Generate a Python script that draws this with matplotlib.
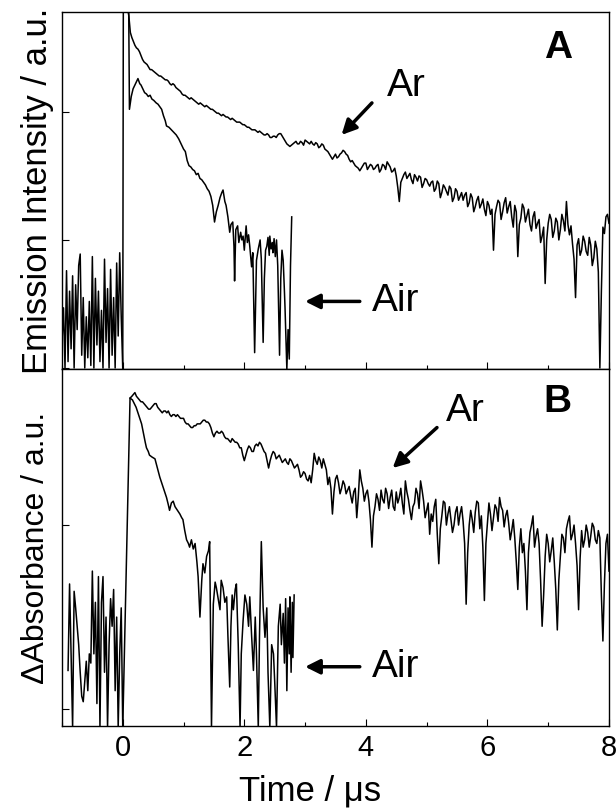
import numpy as np
import matplotlib
matplotlib.use('Agg')
import matplotlib.pyplot as plt
from matplotlib.ticker import MultipleLocator

plt.rcParams['font.family'] = ['Liberation Sans', 'DejaVu Sans']

# ---- panel A: emission decay (a.u.), time in us ----
# pre-trigger noise, -1.0 .. 0.0 us
base_a = [0.20, 0.47, 0.00, 0.76, 0.05, 0.60, 0.15, 0.72, 0.00, 0.65,
          0.30, 0.80, 0.89, 0.10, 0.55, 0.00, 0.40, 0.08, 0.52, 0.02,
          0.87, 0.00, 0.70, 0.18, 0.60, 0.05, 0.45, 0.00, 0.85, 0.20,
          0.62, 0.00, 0.77, 0.10, 0.55, 0.00, 0.82, 0.25, 0.90, 0.40,
          0.00]
# scatter spike at t=0 goes off scale
spike_a = 3.0
# Ar, 0.10 .. 8.00 us every 0.05 us
ar_a = [2.75, 2.58, 2.52, 2.49, 2.44, 2.39, 2.37, 2.33, 2.32, 2.30,
        2.28, 2.27, 2.25, 2.24, 2.21, 2.21, 2.18, 2.16, 2.13, 2.12,
        2.10, 2.10, 2.08, 2.06, 2.06, 2.04, 2.04, 2.02, 2.01, 1.99,
        1.98, 1.98, 1.96, 1.95, 1.95, 1.93, 1.92, 1.91, 1.90, 1.88,
        1.87, 1.86, 1.85, 1.85, 1.83, 1.82, 1.82, 1.80, 1.81, 1.82,
        1.83, 1.79, 1.75, 1.73, 1.75, 1.77, 1.75, 1.76, 1.78, 1.76,
        1.77, 1.74, 1.75, 1.73, 1.74, 1.70, 1.67, 1.63, 1.67, 1.65,
        1.68, 1.69, 1.66, 1.61, 1.60, 1.57, 1.54, 1.58, 1.60, 1.57,
        1.58, 1.56, 1.59, 1.55, 1.58, 1.61, 1.57, 1.54, 1.50, 1.30,
        1.48, 1.53, 1.50, 1.47, 1.51, 1.46, 1.49, 1.44, 1.47, 1.42,
        1.46, 1.40, 1.44, 1.37, 1.41, 1.35, 1.40, 1.33, 1.38, 1.34,
        1.31, 1.37, 1.29, 1.33, 1.26, 1.34, 1.28, 1.24, 1.30, 1.20,
        0.92, 1.26, 1.29, 1.22, 1.33, 1.26, 1.18, 1.27, 0.87, 1.17,
        1.25, 1.19, 1.12, 1.18, 1.09, 1.16, 1.03, 0.66, 1.13, 1.16,
        1.07, 1.14, 1.08, 1.15, 1.30, 1.04, 0.97, 0.55, 1.01, 0.92,
        0.99, 0.88, 0.96, 0.86, 0.93, 0.00, 1.10, 1.18, 1.13]
# Ar, samples half-way between the ones above (0.125 .. 7.975 us)
ar_a_mid = [2.62, 2.55, 2.50, 2.47, 2.41, 2.38, 2.35, 2.33, 2.31, 2.29,
            2.28, 2.26, 2.25, 2.22, 2.22, 2.19, 2.17, 2.14, 2.13, 2.11,
            2.11, 2.09, 2.07, 2.07, 2.05, 2.05, 2.03, 2.02, 2.00, 1.99,
            1.97, 1.97, 1.96, 1.94, 1.94, 1.92, 1.92, 1.90, 1.89, 1.88,
            1.86, 1.86, 1.84, 1.84, 1.82, 1.83, 1.80, 1.81, 1.80, 1.83,
            1.81, 1.77, 1.74, 1.74, 1.76, 1.75, 1.77, 1.74, 1.77, 1.75,
            1.75, 1.76, 1.72, 1.75, 1.71, 1.69, 1.65, 1.65, 1.64, 1.67,
            1.70, 1.67, 1.63, 1.62, 1.58, 1.56, 1.56, 1.60, 1.55, 1.59,
            1.55, 1.58, 1.53, 1.59, 1.55, 1.59, 1.53, 1.56, 1.41, 1.45,
            1.51, 1.48, 1.52, 1.44, 1.49, 1.50, 1.41, 1.48, 1.44, 1.45,
            1.38, 1.46, 1.33, 1.43, 1.38, 1.42, 1.30, 1.40, 1.31, 1.37,
            1.35, 1.26, 1.36, 1.22, 1.31, 1.25, 1.32, 1.19, 1.27, 1.24,
            1.20, 1.31, 1.16, 1.29, 1.21, 1.30, 1.10, 1.22, 1.12, 1.28,
            1.14, 1.24, 1.07, 1.22, 1.13, 0.98, 1.10, 1.00, 1.20, 1.02,
            1.17, 1.00, 1.20, 1.07, 1.12, 1.11, 0.85, 0.96, 0.88, 1.03,
            0.91, 1.02, 0.80, 0.99, 0.75, 0.60, 1.05, 1.20]
# Air
air_a_t = [0.095, 0.11, 0.14, 0.17, 0.20, 0.23, 0.25, 0.28, 0.30, 0.33, 0.36,
           0.39, 0.42, 0.45, 0.48, 0.51, 0.55, 0.58, 0.61, 0.64, 0.67, 0.70,
           0.72, 0.76, 0.80, 0.84, 0.88, 0.92, 0.96, 1.00, 1.03, 1.06, 1.09,
           1.12, 1.15, 1.18, 1.21, 1.24, 1.27, 1.30, 1.33, 1.36, 1.39, 1.42,
           1.45, 1.48, 1.51, 1.54, 1.57, 1.60, 1.63, 1.65, 1.68, 1.70, 1.73,
           1.76, 1.78, 1.81, 1.83, 1.84, 1.86, 1.89, 1.91, 1.94, 1.96, 1.98,
           2.00, 2.03, 2.05, 2.07, 2.09, 2.12, 2.14, 2.17, 2.19, 2.20, 2.23,
           2.26, 2.28, 2.31, 2.33, 2.35, 2.37, 2.39, 2.41, 2.42, 2.44, 2.46,
           2.47, 2.49, 2.51, 2.53, 2.55, 2.58, 2.60, 2.62, 2.64, 2.66, 2.67,
           2.70, 2.72, 2.74, 2.76, 2.78]
air_a = [3.0, 2.02, 2.12, 2.18, 2.21, 2.24, 2.26, 2.22, 2.21, 2.18, 2.15,
         2.14, 2.12, 2.13, 2.10, 2.09, 2.07, 2.06, 2.04, 2.02, 1.97, 1.93,
         1.89, 1.88, 1.86, 1.84, 1.82, 1.79, 1.75, 1.71, 1.69, 1.62, 1.58,
         1.57, 1.55, 1.54, 1.51, 1.52, 1.48, 1.47, 1.45, 1.43, 1.40, 1.38,
         1.34, 1.27, 1.14, 1.22, 1.27, 1.33, 1.37, 1.39, 1.30, 1.27, 1.18,
         1.06, 1.12, 1.14, 0.95, 0.68, 1.08, 1.11, 0.98, 1.06, 1.00, 1.03,
         0.92, 1.11, 0.98, 1.04, 0.95, 0.79, 0.90, 0.12, 0.60, 0.84, 0.93,
         1.00, 0.85, 0.20, 0.70, 0.92, 0.95, 1.02, 0.88, 1.03, 0.93, 0.98,
         0.90, 1.01, 0.87, 1.00, 0.80, 0.10, 0.70, 0.92, 0.84, 0.60, 0.47,
         -0.01, 0.30, 0.07, 0.80, 1.18]

# ---- panel B: transient absorbance (a.u.) ----
# pre-trigger noise, -0.90 .. 0.0 us
base_b = [0.21, 0.68, 0.30, -0.10, 0.64, 0.55, 0.45, 0.35, 0.20, 0.07,
          0.04, 0.15, 0.26, 0.10, 0.30, 0.25, 0.75, 0.30, 0.58, 0.03,
          0.72, -0.10, 0.58, 0.72, 0.20, 0.50, -0.10, 0.35, 0.60, 0.45,
          0.65, 0.10, 0.50, -0.10, 0.30, 0.55, -0.10]
peak_b_t = 0.12
peak_b = 1.69
# Ar, 0.15 .. 8.00 us every 0.05 us
ar_b = [1.70, 1.72, 1.69, 1.67, 1.66, 1.64, 1.63, 1.65, 1.66, 1.63,
        1.61, 1.62, 1.62, 1.59, 1.60, 1.60, 1.58, 1.58, 1.55, 1.54,
        1.53, 1.54, 1.55, 1.56, 1.57, 1.56, 1.53, 1.48, 1.51, 1.50,
        1.50, 1.47, 1.46, 1.47, 1.45, 1.44, 1.42, 1.35, 1.41, 1.42,
        1.40, 1.44, 1.45, 1.42, 1.39, 1.31, 1.38, 1.39, 1.37, 1.36,
        1.35, 1.34, 1.36, 1.33, 1.32, 1.30, 1.27, 1.28, 1.24, 1.23,
        1.39, 1.33, 1.35, 1.36, 1.30, 1.26, 1.06, 1.25, 1.23, 1.20,
        1.22, 1.19, 1.16, 1.18, 1.04, 1.30, 1.20, 1.17, 1.13, 0.88,
        1.10, 1.14, 1.19, 1.12, 1.17, 1.15, 1.10, 1.18, 1.15, 1.12,
        1.24, 1.14, 1.03, 1.12, 1.17, 1.24, 1.13, 1.08, 0.95, 1.02,
        1.14, 0.79, 1.05, 1.12, 1.06, 1.03, 1.00, 1.10, 1.06, 1.02,
        0.57, 1.00, 1.03, 1.07, 1.12, 1.05, 0.59, 1.01, 1.06, 1.04,
        1.09, 1.15, 1.08, 1.05, 1.01, 0.97, 0.93, 0.65, 0.98, 0.90,
        0.54, 0.96, 1.05, 0.94, 0.90, 0.45, 0.83, 0.90, 0.86, 0.80,
        0.43, 0.83, 0.93, 0.98, 1.05, 0.95, 0.90, 0.54, 0.97, 0.92,
        0.96, 0.94, 0.99, 0.90, 0.93, 0.37, 0.90, 0.75]
# Ar, samples half-way between the ones above (0.175 .. 7.975 us)
ar_b_mid = [1.71, 1.70, 1.68, 1.67, 1.65, 1.63, 1.64, 1.66, 1.64, 1.62,
            1.62, 1.61, 1.60, 1.60, 1.59, 1.59, 1.58, 1.56, 1.55, 1.53,
            1.54, 1.55, 1.55, 1.57, 1.56, 1.55, 1.50, 1.50, 1.50, 1.51,
            1.48, 1.47, 1.45, 1.46, 1.45, 1.42, 1.38, 1.38, 1.43, 1.40,
            1.43, 1.43, 1.44, 1.40, 1.35, 1.35, 1.40, 1.36, 1.38, 1.34,
            1.36, 1.33, 1.35, 1.31, 1.33, 1.26, 1.29, 1.25, 1.27, 1.30,
            1.35, 1.37, 1.31, 1.33, 1.22, 1.20, 1.18, 1.27, 1.17, 1.24,
            1.17, 1.21, 1.12, 1.20, 1.15, 1.24, 1.13, 1.19, 1.03, 1.05,
            1.17, 1.08, 1.14, 1.20, 1.09, 1.19, 1.08, 1.12, 1.20, 1.06,
            1.18, 1.08, 1.10, 1.20, 1.09, 1.19, 1.04, 1.12, 1.06, 1.10,
            0.95, 0.98, 1.13, 1.00, 1.10, 0.96, 1.07, 1.00, 1.10, 0.90,
            0.85, 1.08, 0.96, 1.13, 0.98, 0.88, 0.90, 1.12, 0.97, 1.11,
            1.02, 1.10, 0.99, 1.08, 0.92, 1.03, 0.80, 0.88, 0.85, 0.75,
            0.85, 1.00, 0.88, 0.98, 0.70, 0.62, 0.95, 0.80, 0.93, 0.65,
            0.70, 0.95, 0.85, 1.02, 0.92, 1.00, 0.78, 0.82, 0.88, 1.00,
            0.88, 1.01, 0.92, 0.97, 0.62, 0.68, 0.95]
# Air
air_b_t = [0.16, 0.19, 0.22, 0.25, 0.28, 0.31, 0.34, 0.37, 0.39, 0.42, 0.44,
           0.48, 0.53, 0.57, 0.61, 0.64, 0.67, 0.70, 0.72, 0.75, 0.77, 0.80,
           0.83, 0.86, 0.90, 0.94, 0.97, 0.99, 1.02, 1.05, 1.08, 1.10, 1.13,
           1.16, 1.19, 1.22, 1.24, 1.27, 1.30, 1.32, 1.35, 1.38, 1.41, 1.43,
           1.46, 1.49, 1.52, 1.54, 1.57, 1.60, 1.62, 1.65, 1.68, 1.71, 1.73,
           1.76, 1.78, 1.80, 1.82, 1.85, 1.87, 1.90, 1.93, 1.95, 1.98, 2.01,
           2.04, 2.07, 2.09, 2.12, 2.15, 2.18, 2.20, 2.23, 2.25, 2.28, 2.31,
           2.34, 2.37, 2.39, 2.42, 2.45, 2.48, 2.50, 2.53, 2.56, 2.59, 2.61,
           2.64, 2.66, 2.68, 2.70, 2.72, 2.74, 2.75, 2.77, 2.79, 2.80, 2.82]
air_b = [1.68, 1.66, 1.64, 1.61, 1.58, 1.55, 1.50, 1.45, 1.42, 1.40, 1.38,
         1.37, 1.36, 1.31, 1.26, 1.23, 1.20, 1.17, 1.15, 1.11, 1.08, 1.12,
         1.13, 1.10, 1.08, 1.06, 1.04, 1.03, 0.97, 0.92, 0.90, 0.88, 0.92,
         0.87, 0.90, 0.80, 0.72, 0.50, 0.70, 0.79, 0.74, 0.83, 0.86, 0.91,
         -0.10, 0.57, 0.69, 0.66, 0.60, 0.54, 0.70, 0.66, 0.58, 0.61, 0.40,
         0.12, 0.45, 0.62, 0.54, 0.65, 0.68, 0.35, -0.10, 0.30, 0.48, 0.62,
         0.57, 0.45, 0.61, 0.40, 0.21, 0.50, 0.30, -0.10, 0.40, 0.91, 0.55,
         0.39, 0.55, 0.20, -0.10, 0.35, 0.30, 0.15, -0.10, 0.45, 0.57, 0.35,
         0.52, 0.25, 0.60, 0.10, 0.55, 0.30, 0.61, 0.20, 0.58, 0.28, 0.62]


def merge(t, y, y_mid):
    # put the half-way samples between the regular ones
    tt = np.empty(2 * len(t) - 1)
    yy = np.empty(2 * len(t) - 1)
    tt[0::2] = t
    tt[1::2] = (t[:-1] + t[1:]) / 2
    yy[0::2] = y
    yy[1::2] = y_mid
    return tt, yy


fig = plt.figure(figsize=(6.16, 8.10), dpi=100)
ax_a = fig.add_axes([0.1006, 0.5444, 0.888, 0.4408])
ax_b = fig.add_axes([0.1006, 0.1037, 0.888, 0.4407])

lw = 1.1
base_a_t = np.linspace(-1.0, 0.0, len(base_a))
ar_a_t, ar_a_y = merge(np.linspace(0.10, 8.0, len(ar_a)), ar_a, ar_a_mid)
ax_a.plot(base_a_t, base_a, color='k', lw=lw)
ax_a.plot(np.concatenate(([0.0, 0.01], ar_a_t)),
          np.concatenate(([base_a[-1], spike_a], ar_a_y)), color='k', lw=lw)
ax_a.plot(air_a_t, air_a, color='k', lw=lw)

base_b_t = np.linspace(-0.90, 0.0, len(base_b))
ar_b_t, ar_b_y = merge(np.linspace(0.15, 8.0, len(ar_b)), ar_b, ar_b_mid)
ax_b.plot(base_b_t, base_b, color='k', lw=lw)
ax_b.plot(np.concatenate(([0.0, peak_b_t], ar_b_t)),
          np.concatenate(([base_b[-1], peak_b], ar_b_y)), color='k', lw=lw)
ax_b.plot([peak_b_t] + air_b_t, [peak_b] + air_b, color='k', lw=lw)

ax_a.set_ylim(-0.008, 2.78)
ax_b.set_ylim(-0.092, 1.848)
ax_a.set_yticks([0, 1, 2])
ax_b.set_yticks([0, 1])

for ax in (ax_a, ax_b):
    ax.set_xlim(-1.0, 8.0)
    ax.xaxis.set_major_locator(MultipleLocator(2))
    ax.xaxis.set_minor_locator(MultipleLocator(1))
    ax.tick_params(which='both', direction='in', labelleft=False)
    ax.tick_params(which='major', length=5, width=0.8)
    ax.tick_params(which='minor', length=3, width=0.8)
    for s in ax.spines.values():
        s.set_linewidth(1.0)

ax_a.tick_params(labelbottom=False)
ax_b.tick_params(axis='x', labelsize=21, pad=6)

ax_a.set_ylabel('Emission Intensity / a.u.', fontsize=25, labelpad=6)
ax_b.set_ylabel('\u0394Absorbance / a.u.', fontsize=23, labelpad=8)
ax_b.set_xlabel('Time / \u03bcs', fontsize=25)
ax_b.xaxis.set_label_coords(0.453, -0.135)

arrow = dict(arrowstyle='-|>', color='k', lw=2.5, mutation_scale=22, shrinkA=0, shrinkB=0)

ax_a.text(7.16, 2.50, 'A', fontsize=28, fontweight='bold', ha='center', va='center')
ax_a.text(4.66, 2.20, 'Ar', fontsize=28, ha='center', va='center')
ax_a.annotate('', xy=(3.60, 1.82), xytext=(4.10, 2.07), arrowprops=arrow)
ax_a.text(4.10, 0.52, 'Air', fontsize=28, ha='left', va='center')
ax_a.annotate('', xy=(3.0, 0.52), xytext=(3.90, 0.52), arrowprops=arrow)

ax_b.text(7.16, 1.67, 'B', fontsize=28, fontweight='bold', ha='center', va='center')
ax_b.text(5.63, 1.62, 'Ar', fontsize=28, ha='center', va='center')
ax_b.annotate('', xy=(4.44, 1.31), xytext=(5.17, 1.53), arrowprops=arrow)
ax_b.text(4.10, 0.23, 'Air', fontsize=28, ha='left', va='center')
ax_b.annotate('', xy=(3.0, 0.23), xytext=(3.90, 0.23), arrowprops=arrow)

fig.savefig('out.png', dpi=100)
